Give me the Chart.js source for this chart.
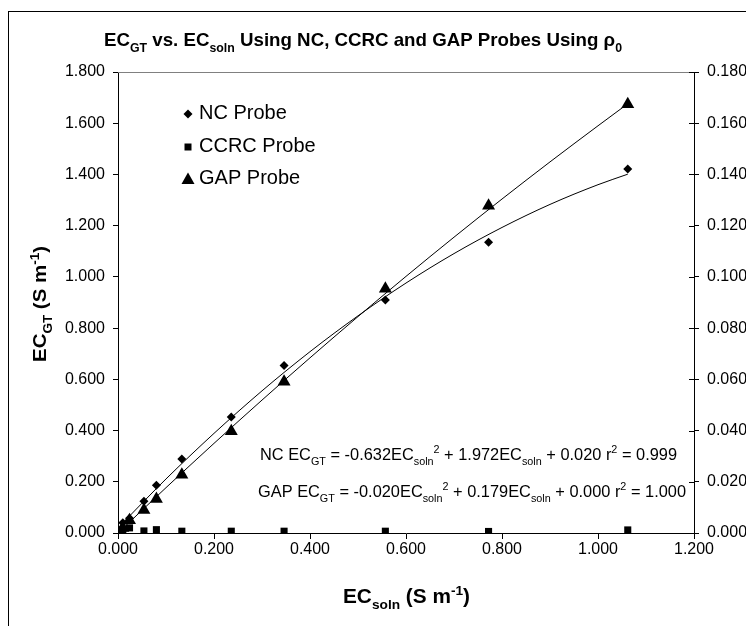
<!DOCTYPE html>
<html>
<head>
<meta charset="utf-8">
<script src="https://cdn.jsdelivr.net/npm/chart.js@4.4.1/dist/chart.umd.min.js"></script>
<style>
  html, body { margin: 0; padding: 0; background: #fff; }
  #wrap { width: 746px; height: 626px; }
</style>
</head>
<body>
<div id="wrap"><canvas id="chart" width="746" height="626"></canvas></div>
<script>
// measured values (S m-1)
const ecSoln = [0.000, 0.010, 0.024, 0.054, 0.080, 0.133, 0.236, 0.346, 0.557, 0.772, 1.062];
const ncProbe = [0.003, 0.040, 0.058, 0.124, 0.186, 0.289, 0.453, 0.654, 0.910, 1.135, 1.421];
const ccrcProbe = [0.000, 0.004, 0.020, 0.008, 0.013, 0.007, 0.007, 0.007, 0.007, 0.006, 0.012];
const gapProbe = [0.000, 0.002, 0.005, 0.009, 0.0133, 0.0227, 0.0397, 0.0591, 0.0954, 0.1278, 0.1674]; // right axis

// trendlines
const trendX = [0.000, 0.100, 0.200, 0.300, 0.400, 0.500, 0.600, 0.700, 0.800, 0.900, 1.000, 1.062];
const ncTrend = [0.020, 0.211, 0.389, 0.555, 0.708, 0.848, 0.976, 1.091, 1.193, 1.283, 1.360, 1.401];
const gapTrend = [0.000, 0.0177, 0.0350, 0.0519, 0.0684, 0.0845, 0.1002, 0.1155, 0.1304, 0.1449, 0.1590, 0.1676];

const xTicks = [0, 0.2, 0.4, 0.6, 0.8, 1.0, 1.2];
const yTicks = [0, 0.2, 0.4, 0.6, 0.8, 1.0, 1.2, 1.4, 1.6, 1.8];
const y2Ticks = [0, 0.02, 0.04, 0.06, 0.08, 0.10, 0.12, 0.14, 0.16, 0.18];

const FONT = '"Liberation Sans", Arial, sans-serif';

function pts(xs, ys) {
    return xs.map((x, i) => ({ x: x, y: ys[i] }));
}

// text with sub/superscripts, squeezed to a given width
function drawRich(ctx, parts, o) {
    const wt = o.bold ? 'bold ' : '';
    let total = 0;
    const list = parts.map(p => {
        const s = (p.sub || p.sup) ? o.size * 0.66 : o.size;
        ctx.font = wt + s + 'px ' + FONT;
        const w = ctx.measureText(p.t).width;
        total += w;
        return { t: p.t, s: s, w: w, dy: p.sub ? o.size * 0.3 : (p.sup ? -o.size * 0.4 : 0) };
    });
    const sx = o.width ? o.width / total : 1;
    ctx.save();
    ctx.translate(o.x, o.y);
    if (o.rotate) ctx.rotate(o.rotate);
    ctx.scale(sx, 1);
    ctx.fillStyle = '#000';
    ctx.textAlign = 'left';
    ctx.textBaseline = 'alphabetic';
    let cx = o.align === 'center' ? -total / 2 : 0;
    list.forEach(p => {
        ctx.font = wt + p.s + 'px ' + FONT;
        ctx.fillText(p.t, cx, p.dy);
        cx += p.w;
    });
    ctx.restore();
}

function marker(ctx, style, x, y) {
    ctx.beginPath();
    if (style === 'rectRot') {
        ctx.moveTo(x, y - 4.5); ctx.lineTo(x + 4.5, y); ctx.lineTo(x, y + 4.5); ctx.lineTo(x - 4.5, y);
    } else if (style === 'rect') {
        ctx.rect(x - 3.5, y - 3.5, 7, 7);
    } else {
        ctx.moveTo(x, y - 6.5); ctx.lineTo(x + 6.5, y + 5); ctx.lineTo(x - 6.5, y + 5);
    }
    ctx.closePath();
    ctx.fill();
}

const decor = {
    id: 'decor',
    beforeDraw(chart) {
        const ctx = chart.ctx;
        ctx.save();
        ctx.fillStyle = '#fff';
        ctx.fillRect(0, 0, chart.width, chart.height);
        ctx.strokeStyle = '#000';
        ctx.lineWidth = 1;
        ctx.strokeRect(8.5, 11.5, 800, 700);
        ctx.restore();
    },
    afterDraw(chart) {
        const ctx = chart.ctx;
        const a = chart.chartArea;
        ctx.save();
        // top edge of plot area
        ctx.strokeStyle = '#808080';
        ctx.lineWidth = 1;
        ctx.beginPath();
        ctx.moveTo(a.left, a.top + 0.5);
        ctx.lineTo(a.right, a.top + 0.5);
        ctx.stroke();
        // right axis ticks cross the axis
        const y2 = chart.scales.y2;
        ctx.strokeStyle = '#000';
        y2Ticks.forEach(v => {
            const py = Math.round(y2.getPixelForValue(v)) + 0.5;
            ctx.beginPath();
            ctx.moveTo(a.right - 5, py);
            ctx.lineTo(a.right, py);
            ctx.stroke();
        });

        // legend
        ctx.fillStyle = '#000';
        const rows = [[0, 119, 114], [1, 152, 147], [2, 184, 179]];
        rows.forEach(r => {
            const ds = chart.data.datasets[r[0]];
            marker(ctx, ds.pointStyle, 188, r[2]);
            ctx.font = '20px ' + FONT;
            ctx.textAlign = 'left';
            ctx.textBaseline = 'alphabetic';
            ctx.fillText(ds.label, 199, r[1]);
        });
        ctx.restore();

        drawRich(ctx, [
            { t: 'EC' }, { t: 'GT', sub: 1 }, { t: ' vs. EC' }, { t: 'soln', sub: 1 },
            { t: ' Using NC, CCRC and GAP Probes Using ' }, { t: 'ρ' }, { t: '0', sub: 1 }
        ], { x: 104, y: 46, size: 19, bold: true, width: 518 });

        drawRich(ctx, [
            { t: 'EC' }, { t: 'GT', sub: 1 }, { t: ' (S m' }, { t: '-1', sup: 1 }, { t: ')' }
        ], { x: 46, y: 304, size: 18.5, bold: true, width: 116, align: 'center', rotate: -Math.PI / 2 });

        drawRich(ctx, [
            { t: 'EC' }, { t: 'soln', sub: 1 }, { t: ' (S m' }, { t: '-1', sup: 1 }, { t: ')' }
        ], { x: 406.5, y: 603, size: 19.5, bold: true, width: 127, align: 'center' });

        drawRich(ctx, [
            { t: 'NC EC' }, { t: 'GT', sub: 1 }, { t: ' = -0.632EC' }, { t: 'soln', sub: 1 }, { t: '2', sup: 1 },
            { t: ' + 1.972EC' }, { t: 'soln', sub: 1 }, { t: ' + 0.020 r' }, { t: '2', sup: 1 }, { t: ' = 0.999' }
        ], { x: 260, y: 460, size: 17, width: 417 });

        drawRich(ctx, [
            { t: 'GAP EC' }, { t: 'GT', sub: 1 }, { t: ' = -0.020EC' }, { t: 'soln', sub: 1 }, { t: '2', sup: 1 },
            { t: ' + 0.179EC' }, { t: 'soln', sub: 1 }, { t: ' + 0.000 r' }, { t: '2', sup: 1 }, { t: ' = 1.000' }
        ], { x: 258, y: 497, size: 17, width: 428 });
    }
};

const tickFont = { family: FONT, size: 16 };

new Chart(document.getElementById('chart'), {
    type: 'scatter',
    data: {
        datasets: [
            { label: 'NC Probe', data: pts(ecSoln, ncProbe), yAxisID: 'y', pointStyle: 'rectRot', pointRadius: 4.5, backgroundColor: '#000', borderColor: '#000', borderWidth: 0 },
            { label: 'CCRC Probe', data: pts(ecSoln, ccrcProbe), yAxisID: 'y', pointStyle: 'rect', pointRadius: 5, backgroundColor: '#000', borderColor: '#000', borderWidth: 0 },
            { label: 'GAP Probe', data: pts(ecSoln, gapProbe), yAxisID: 'y2', pointStyle: 'triangle', pointRadius: 7.5, backgroundColor: '#000', borderColor: '#000', borderWidth: 0 },
            { label: 'NC trend', data: pts(trendX, ncTrend), yAxisID: 'y', showLine: true, pointRadius: 0, borderColor: '#000', borderWidth: 1, cubicInterpolationMode: 'monotone' },
            { label: 'GAP trend', data: pts(trendX, gapTrend), yAxisID: 'y2', showLine: true, pointRadius: 0, borderColor: '#000', borderWidth: 1, cubicInterpolationMode: 'monotone' }
        ]
    },
    options: {
        responsive: false,
        animation: false,
        events: [],
        layout: { padding: { top: 72, left: 0, right: 0, bottom: 0 } },
        plugins: { legend: { display: false }, title: { display: false }, tooltip: { enabled: false } },
        scales: {
            x: {
                type: 'linear', min: 0, max: 1.2,
                afterBuildTicks: s => { s.ticks = xTicks.map(v => ({ value: v })); },
                afterFit: s => { s.height = 93; },
                border: { color: '#000', width: 1 },
                grid: { drawOnChartArea: false, drawTicks: true, tickLength: 6, tickColor: '#000' },
                ticks: { font: tickFont, color: '#000', padding: 1, maxRotation: 0, callback: v => v.toFixed(3) }
            },
            y: {
                position: 'left', min: 0, max: 1.8,
                afterBuildTicks: s => { s.ticks = yTicks.map(v => ({ value: v })); },
                afterFit: s => { s.width = 118; },
                border: { color: '#000', width: 1 },
                grid: { drawOnChartArea: false, drawTicks: true, tickLength: 5, tickColor: '#000' },
                ticks: { font: tickFont, color: '#000', padding: 8, callback: v => v.toFixed(3) }
            },
            y2: {
                position: 'right', min: 0, max: 0.18,
                afterBuildTicks: s => { s.ticks = y2Ticks.map(v => ({ value: v })); },
                afterFit: s => { s.width = 52; },
                border: { color: '#000', width: 1 },
                grid: { drawOnChartArea: false, drawTicks: true, tickLength: 5, tickColor: '#000' },
                ticks: { font: tickFont, color: '#000', padding: 8, callback: v => v.toFixed(3) }
            }
        }
    },
    plugins: [decor]
});
</script>
</body>
</html>
